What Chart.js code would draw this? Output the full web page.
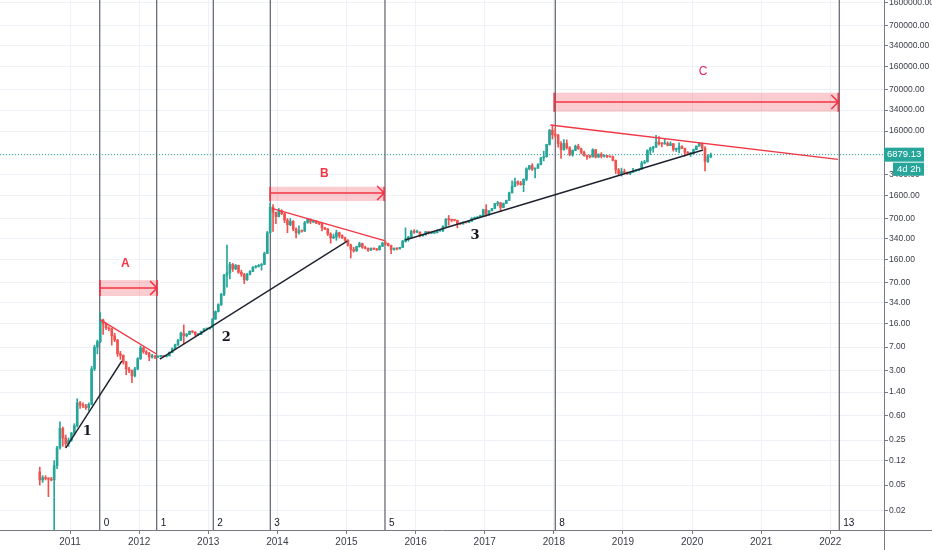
<!DOCTYPE html>
<html>
<head>
<meta charset="utf-8">
<script src="https://cdn.jsdelivr.net/npm/chart.js@4.4.0/dist/chart.umd.min.js"></script>
<style>
  html, body { margin: 0; padding: 0; background: #fff; }
  #wrap { width: 932px; height: 550px; }
</style>
</head>
<body>
<div id="wrap"><canvas id="chart" width="932" height="550"></canvas></div>
<script>
// axis ticks
const yearTicks = [2011, 2012, 2013, 2014, 2015, 2016, 2017, 2018, 2019, 2020, 2021, 2022];
const priceTicks = [0.02, 0.05, 0.12, 0.25, 0.6, 1.4, 3, 7, 16, 34, 70, 160, 340, 700, 1600, 3400, 7000,
  16000, 34000, 70000, 160000, 340000, 700000, 1600000];

// half-month candles [open, high, low, close], first one is second half of July 2010
const firstPeriod = 2010 + 13 / 24;
const ohlc2010 = [
  [0.08, 0.095, 0.05, 0.06], [0.06, 0.07, 0.055, 0.065], [0.065, 0.07, 0.06, 0.063],
  [0.063, 0.065, 0.033, 0.062], [0.062, 0.066, 0.058, 0.06], [0.06, 0.12, 0.01, 0.1],
  [0.1, 0.2, 0.09, 0.19], [0.19, 0.48, 0.18, 0.38], [0.38, 0.4, 0.2, 0.27],
  [0.27, 0.3, 0.19, 0.22], [0.22, 0.27, 0.2, 0.25]
];
const ohlc2011 = [
  [0.25, 0.33, 0.24, 0.32], [0.32, 0.45, 0.3, 0.42], [0.42, 1.1, 0.4, 0.95], [0.95, 1.0, 0.78, 0.88],
  [0.88, 0.95, 0.8, 0.85], [0.85, 0.9, 0.75, 0.8], [0.8, 0.95, 0.72, 0.9], [0.9, 3.5, 0.88, 3.2],
  [3.2, 7.5, 3.0, 7], [7, 9, 5.5, 8.5], [8.5, 24, 8.2, 18.5], [18.5, 19, 11, 16],
  [16, 16.5, 13, 14], [14, 14.5, 12.5, 13.5], [13.5, 13.8, 7.5, 10.5], [10.5, 11.5, 8.5, 9],
  [9, 9.2, 5, 5.5], [5.5, 6, 4.5, 5.2], [5.2, 5.3, 3.8, 4.1], [4.1, 4.2, 2.6, 3.2],
  [3.2, 3.4, 2.8, 3.0], [3.0, 3.1, 1.95, 2.5], [2.5, 3.4, 2.4, 3.2], [3.2, 4.8, 3.1, 4.6]
];
const ohlc2012 = [
  [4.6, 7.3, 4.5, 6.8], [6.8, 7.0, 5.6, 5.9], [5.9, 6.2, 5.3, 5.6], [5.6, 5.8, 4.3, 4.9],
  [4.9, 5.4, 4.7, 5.0], [5.0, 5.2, 4.6, 4.9], [4.9, 5.1, 4.8, 5.0], [5.0, 5.2, 4.9, 5.1],
  [5.1, 5.2, 4.9, 5.0], [5.0, 5.2, 4.9, 5.1], [5.1, 5.9, 5.1, 5.8], [5.8, 6.8, 5.7, 6.6],
  [6.6, 7.8, 6.5, 7.6], [7.6, 9.2, 7.4, 8.9], [8.9, 12, 8.8, 11.5], [11.5, 15.5, 7.8, 10.5],
  [10.5, 11.4, 10.1, 11.0], [11.0, 12.5, 10.9, 12.3], [12.3, 12.6, 11.6, 12.0], [12.0, 12.1, 10.5, 10.9],
  [10.9, 11.2, 10.5, 11.0], [11.0, 12.4, 10.9, 12.3], [12.3, 13.6, 12.2, 13.4], [13.4, 13.7, 12.9, 13.5]
];
const ohlc2013 = [
  [13.5, 14.2, 13.3, 14.0], [14.0, 19.5, 13.9, 19.0], [19.0, 25.5, 18.8, 25.0], [25.0, 33, 24.5, 32],
  [32, 48, 31, 46], [46, 95, 44, 92], [92, 270, 60, 100], [100, 145, 80, 135],
  [135, 140, 105, 115], [115, 135, 112, 130], [130, 132, 98, 102], [102, 110, 88, 95],
  [95, 98, 68, 78], [78, 98, 76, 95], [95, 108, 93, 105], [105, 125, 104, 122],
  [122, 130, 118, 126], [126, 135, 123, 130], [130, 140, 110, 135], [135, 210, 134, 200],
  [200, 440, 198, 420], [420, 1200, 415, 1050], [1050, 1150, 440, 870], [870, 880, 580, 750]
];
const ohlc2014 = [
  [750, 1000, 740, 920], [920, 960, 800, 830], [830, 850, 600, 660], [660, 700, 420, 560],
  [560, 700, 540, 630], [630, 650, 450, 480], [480, 500, 350, 420], [420, 540, 400, 450],
  [450, 460, 430, 445], [445, 630, 440, 600], [600, 700, 590, 680], [680, 690, 580, 620],
  [620, 660, 600, 640], [640, 645, 580, 590], [590, 600, 560, 580], [580, 590, 450, 500],
  [500, 510, 470, 480], [480, 490, 380, 400], [400, 420, 290, 350], [350, 400, 340, 360],
  [360, 460, 320, 420], [420, 430, 350, 380], [380, 390, 340, 350], [350, 360, 310, 320]
];
const ohlc2015 = [
  [320, 330, 260, 270], [270, 280, 170, 230], [230, 250, 210, 220], [220, 260, 215, 255],
  [255, 300, 250, 285], [285, 290, 240, 250], [250, 260, 235, 240], [240, 245, 215, 225],
  [225, 245, 222, 240], [240, 242, 230, 235], [235, 240, 222, 228], [228, 265, 226, 260],
  [260, 300, 255, 290], [290, 315, 270, 285], [285, 290, 260, 265], [265, 270, 198, 230],
  [230, 245, 225, 240], [240, 245, 228, 235], [235, 250, 235, 248], [248, 320, 246, 310],
  [310, 500, 300, 340], [340, 370, 310, 360], [360, 460, 355, 440], [440, 470, 410, 430]
];
const ohlc2016 = [
  [430, 460, 420, 430], [430, 435, 360, 380], [380, 400, 370, 390], [390, 440, 385, 435],
  [435, 440, 400, 415], [415, 420, 405, 415], [415, 425, 410, 420], [420, 465, 418, 450],
  [450, 460, 440, 455], [455, 540, 435, 530], [530, 700, 525, 680], [680, 780, 550, 670],
  [670, 680, 620, 660], [660, 670, 640, 655], [655, 660, 500, 580], [580, 590, 565, 575],
  [575, 620, 570, 610], [610, 612, 590, 605], [605, 640, 600, 635], [635, 720, 630, 700],
  [700, 740, 690, 715], [715, 750, 705, 740], [740, 790, 735, 780], [780, 975, 775, 960]
];
const ohlc2017 = [
  [960, 1150, 760, 820], [820, 930, 780, 920], [920, 1010, 920, 1000], [1000, 1200, 990, 1190],
  [1190, 1290, 1100, 1230], [1230, 1240, 890, 1040], [1040, 1220, 1030, 1200], [1200, 1350, 1190, 1340],
  [1340, 1800, 1330, 1750], [1750, 2700, 1750, 2200], [2200, 2980, 2200, 2600], [2600, 2700, 2300, 2450],
  [2450, 2650, 2300, 2350], [2350, 2900, 1830, 2850], [2850, 4300, 2700, 4150], [4150, 4700, 4000, 4650],
  [4650, 4980, 3900, 4100], [4100, 4200, 3000, 4300], [4300, 5000, 4150, 4800], [4800, 6200, 4750, 6150],
  [6150, 7800, 5500, 6400], [6400, 10000, 6300, 9900], [9900, 17000, 9700, 16500], [16500, 19800, 12000, 14000]
];
const ohlc2018 = [
  [14000, 17500, 12800, 13800], [13800, 14200, 9000, 10200], [10200, 11000, 6000, 8200], [8200, 11800, 8100, 10300],
  [10300, 11700, 8400, 8800], [8800, 9200, 6600, 6900], [6900, 8200, 6500, 8000], [8000, 9700, 7900, 9300],
  [9300, 10000, 8300, 8500], [8500, 8700, 7100, 7500], [7500, 7800, 6500, 6700], [6700, 6800, 5800, 6400],
  [6400, 6800, 6100, 6350], [6350, 8500, 6300, 8200], [8200, 8300, 6100, 6300], [6300, 7100, 6200, 7000],
  [7000, 7400, 6100, 6500], [6500, 6800, 6300, 6600], [6600, 6700, 6200, 6450], [6450, 6550, 6300, 6350],
  [6350, 6550, 5500, 5600], [5600, 5700, 3500, 4000], [4000, 4200, 3300, 3500], [3500, 4250, 3200, 3750]
];
const ohlc2019 = [
  [3750, 4100, 3550, 3600], [3600, 3700, 3400, 3450], [3450, 3700, 3400, 3650], [3650, 4200, 3650, 3850],
  [3850, 3950, 3750, 3900], [3900, 4100, 3850, 4100], [4100, 5450, 4050, 5100], [5100, 5600, 5000, 5300],
  [5300, 8200, 5300, 8000], [8000, 9000, 6900, 8600], [8600, 9300, 7500, 9000], [9000, 13800, 8950, 10800],
  [10800, 13200, 9700, 10200], [10200, 10600, 9100, 10100], [10100, 12300, 10000, 10300], [10300, 10900, 9400, 9600],
  [9600, 10900, 9500, 10200], [10200, 10300, 7800, 8300], [8300, 8700, 7700, 8300], [8300, 10500, 7300, 9200],
  [9200, 9500, 8500, 8600], [8600, 8700, 6500, 7500], [7500, 7700, 6900, 7100], [7100, 7500, 6450, 7200]
];
const ohlc2020 = [
  [7200, 8400, 6900, 8200], [8200, 9400, 8200, 9350], [9350, 10500, 9300, 10300], [10300, 10400, 8500, 8700],
  [8700, 9200, 3850, 5400], [5400, 6900, 5200, 6400], [6400, 7300, 6150, 6879.13]
];
const lastPrice = 6879.13;

// vertical cycle lines
const cycleDates = [2011.430, 2012.254, 2013.073, 2013.898, 2015.557, 2018.021, 2022.130];
const cycleLabels = ['0', '1', '2', '3', '5', '8', '13'];

// trend lines [[date, price], [date, price]]
const blackLines = [
  [[2010.94, 0.19], [2011.75, 4.25]],
  [[2012.30, 4.56], [2015.01, 312]],
  [[2015.85, 324], [2020.16, 8130]]
];
const redLines = [
  [[2011.44, 18.5], [2012.25, 5.46]],
  [[2013.92, 1007], [2015.55, 316]],
  [[2017.95, 19900], [2022.11, 5822]]
];

// date ranges: start, end, low, high, arrow level
const rangeNames = ['A', 'B', 'C'];
const rangeStart = [2011.434, 2013.895, 2018.005];
const rangeEnd = [2012.259, 2015.545, 2022.116];
const rangeLow = [43.6, 1309, 32060];
const rangeHigh = [77, 2183, 63240];
const rangeMid = [58, 1742, 45300];
const rangeLabelAt = [[2011.80, 137], [2014.68, 3450], [2020.16, 132800]];

// wave numbers
const waveNames = ['1', '2', '3'];
const waveAt = [[2011.25, 0.334], [2013.26, 9.7], [2016.86, 373]];

const xMin = 2009.987, xMax = 2022.777;
const yMin = 0.01, yMax = 1750000;

const UP = '#26a69a', DOWN = '#ef5350', RED = '#f23645';
const AXIS_FONT = '"Liberation Sans", Arial, sans-serif';

const candles = [].concat(ohlc2010, ohlc2011, ohlc2012, ohlc2013, ohlc2014, ohlc2015,
  ohlc2016, ohlc2017, ohlc2018, ohlc2019, ohlc2020);
const candleX = candles.map((c, i) => firstPeriod + i / 24 + 1 / 48);
const candleColor = ctx => {
  const c = candles[ctx.dataIndex];
  return c && c[3] >= c[0] ? UP : DOWN;
};

const datasets = [];

datasets.push({
  type: 'line',
  data: [{ x: xMin, y: lastPrice }, { x: xMax, y: lastPrice }],
  borderColor: UP, borderWidth: 1, borderDash: [1, 2], pointRadius: 0, order: 20
});

cycleDates.forEach(d => {
  datasets.push({
    type: 'line',
    data: [{ x: d, y: yMin }, { x: d, y: yMax }],
    borderColor: '#5d606b', borderWidth: 1.2, pointRadius: 0, order: 15
  });
});

datasets.push({
  type: 'bar',
  data: candles.map((c, i) => ({ x: candleX[i], y: [c[2], c[1]] })),
  backgroundColor: candleColor,
  barThickness: 1, grouped: false, order: 10
});
datasets.push({
  type: 'bar',
  data: candles.map((c, i) => ({ x: candleX[i], y: [c[0], c[3]] })),
  backgroundColor: candleColor,
  barThickness: 2, minBarLength: 1, grouped: false, order: 9
});

blackLines.forEach(l => {
  datasets.push({
    type: 'line',
    data: l.map(p => ({ x: p[0], y: p[1] })),
    borderColor: '#1e222d', borderWidth: 1.4, pointRadius: 0, order: 2
  });
});
redLines.forEach(l => {
  datasets.push({
    type: 'line',
    data: l.map(p => ({ x: p[0], y: p[1] })),
    borderColor: RED, borderWidth: 1.4, pointRadius: 0, order: 1
  });
});

const overlay = {
  id: 'overlay',
  beforeDatasetsDraw(chart) {
    const { ctx, scales: { x, y } } = chart;
    ctx.save();
    rangeNames.forEach((n, i) => {
      const x1 = x.getPixelForValue(rangeStart[i]), x2 = x.getPixelForValue(rangeEnd[i]);
      const y1 = y.getPixelForValue(rangeHigh[i]), y2 = y.getPixelForValue(rangeLow[i]);
      ctx.fillStyle = 'rgba(242, 54, 69, 0.25)';
      ctx.fillRect(x1, y1, x2 - x1, y2 - y1);
    });
    ctx.restore();
  },
  afterDatasetsDraw(chart) {
    const { ctx, scales: { x, y } } = chart;
    ctx.save();
    rangeNames.forEach((n, i) => {
      const x1 = x.getPixelForValue(rangeStart[i]), x2 = x.getPixelForValue(rangeEnd[i]);
      const y1 = y.getPixelForValue(rangeHigh[i]), y2 = y.getPixelForValue(rangeLow[i]);
      const ym = y.getPixelForValue(rangeMid[i]);
      ctx.strokeStyle = RED;
      ctx.lineWidth = 1.6;
      ctx.beginPath();
      ctx.moveTo(x1, y1); ctx.lineTo(x1, y2);
      ctx.moveTo(x2, y1); ctx.lineTo(x2, y2);
      ctx.moveTo(x1, ym); ctx.lineTo(x2, ym);
      ctx.moveTo(x2 - 7, ym - 7); ctx.lineTo(x2, ym); ctx.lineTo(x2 - 7, ym + 7);
      ctx.stroke();
      ctx.fillStyle = n === 'C' ? '#e0245e' : RED;
      ctx.font = (n === 'C' ? '' : 'bold ') + '12px "Liberation Sans", Arial, sans-serif';
      ctx.textAlign = 'center';
      ctx.textBaseline = 'middle';
      ctx.fillText(n, x.getPixelForValue(rangeLabelAt[i][0]), y.getPixelForValue(rangeLabelAt[i][1]));
    });
    ctx.fillStyle = '#131722';
    ctx.font = 'bold 13px "DejaVu Serif", "Liberation Serif", serif';
    ctx.textAlign = 'center';
    ctx.textBaseline = 'middle';
    waveNames.forEach((n, i) => {
      ctx.fillText(n, x.getPixelForValue(waveAt[i][0]), y.getPixelForValue(waveAt[i][1]));
    });
    ctx.font = '10px "Liberation Sans", Arial, sans-serif';
    ctx.textAlign = 'left';
    cycleDates.forEach((d, i) => {
      ctx.fillText(cycleLabels[i], x.getPixelForValue(d) + 4, chart.chartArea.bottom - 7);
    });
    ctx.restore();
  },
  afterDraw(chart) {
    const { ctx, scales: { y } } = chart;
    const area = chart.chartArea;
    const left = area.right;
    const py = y.getPixelForValue(lastPrice);
    ctx.save();
    // axis lines run on to the canvas edges
    ctx.strokeStyle = '#787b86';
    ctx.lineWidth = 1;
    ctx.beginPath();
    ctx.moveTo(left + 0.5, area.bottom); ctx.lineTo(left + 0.5, chart.height);
    ctx.moveTo(left, area.bottom + 0.5); ctx.lineTo(chart.width, area.bottom + 0.5);
    ctx.stroke();
    ctx.fillStyle = UP;
    ctx.fillRect(left, py - 7, 40, 14);
    ctx.fillRect(left + 9, py + 8, 31, 13);
    ctx.fillStyle = '#fff';
    ctx.font = '9.5px ' + AXIS_FONT;
    ctx.textBaseline = 'middle';
    ctx.textAlign = 'left';
    ctx.fillText(lastPrice.toFixed(2), left + 3, py);
    ctx.fillText('4d 2h', left + 13, py + 14.5);
    ctx.restore();
  }
};

new Chart(document.getElementById('chart'), {
  type: 'bar',
  data: { datasets: datasets },
  plugins: [overlay],
  options: {
    responsive: false,
    animation: false,
    devicePixelRatio: 1,
    layout: { padding: 0 },
    plugins: { legend: { display: false }, tooltip: { enabled: false } },
    scales: {
      x: {
        type: 'linear', min: xMin, max: xMax, offset: false,
        afterBuildTicks: s => { s.ticks = yearTicks.map(v => ({ value: v })); },
        afterFit: s => { s.height = 20; s.paddingLeft = 0; s.paddingRight = 0; },
        ticks: {
          autoSkip: false, maxRotation: 0, padding: 2, color: '#3a3d47',
          font: { size: 10, family: AXIS_FONT },
          callback: v => String(v)
        },
        grid: { offset: false, color: '#eef1f6', tickLength: 4, tickColor: '#787b86' },
        border: { color: '#787b86' }
      },
      y: {
        type: 'logarithmic', position: 'right', min: yMin, max: yMax,
        afterBuildTicks: s => { s.ticks = priceTicks.map(v => ({ value: v })); },
        afterFit: s => { s.width = 48; s.paddingTop = 0; s.paddingBottom = 0; },
        ticks: {
          autoSkip: false, padding: 1, color: '#3a3d47',
          font: { size: 8.5, family: AXIS_FONT },
          callback: v => Number(v).toFixed(2)
        },
        grid: { offset: false, color: '#eef1f6', tickLength: 4, tickColor: '#787b86' },
        border: { color: '#787b86' }
      }
    }
  }
});
</script>
</body>
</html>
